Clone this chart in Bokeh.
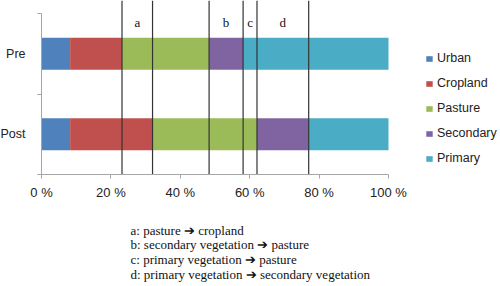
from bokeh.plotting import figure
from bokeh.models import (Range1d, FixedTicker, Legend, LegendItem, Label,
                          ColumnDataSource)
from bokeh.core.properties import value
from bokeh.embed import file_html
from bokeh.resources import INLINE
import numpy as np

# ---- data (percent of area) ----
categories = ["Pre", "Post"]
cat_pos = [1.5, 0.5]
series_names = ["Urban", "Cropland", "Pasture", "Secondary", "Primary"]
urban = [8.25, 8.25]
cropland = [14.95, 23.75]
pasture = [25.1, 30.1]
secondary = [9.8, 14.9]
primary = [41.9, 23.0]
colors = ["#4F81BD", "#C0504D", "#9BBB59", "#8064A2", "#4BACC6"]
x_ticks = [0, 20, 40, 60, 80, 100]
x_tick_labels = ["0 %", "20 %", "40 %", "60 %", "80 %", "100 %"]
transition_labels = ["a", "b", "c", "d"]
notes = [
    "a: pasture \u2794 cropland",
    "b: secondary vegetation \u2794 pasture",
    "c: primary vegetation \u2794 pasture",
    "d: primary vegetation \u2794 secondary vegetation",
]

series = [urban, cropland, pasture, secondary, primary]
cum = np.cumsum(np.array(series), axis=0)  # shape (5, 2)
starts = np.vstack([np.zeros(2), cum[:-1]])

# frame covers the whole canvas; axes are pinned at 0 with limited bounds
PX_X = 3.47    # px per percent
PX_Y = 80.5    # px per category unit
X0, Y0 = 41, 174   # pixel position of the axes origin
W, H = 500, 286
x_lo, x_hi = -X0 / PX_X, (W - X0) / PX_X
y_hi, y_lo = Y0 / PX_Y, -(H - Y0) / PX_Y

p = figure(width=W, height=H, output_backend="svg", toolbar_location=None,
           x_range=Range1d(x_lo, x_hi), y_range=Range1d(y_lo, y_hi),
           min_border=0)
p.outline_line_color = None
p.xgrid.visible = False
p.ygrid.visible = False
p.background_fill_color = "white"
p.border_fill_color = "white"

items = []
for i, name in enumerate(series_names):
    src = ColumnDataSource(dict(y=cat_pos, left=starts[i], right=cum[i]))
    r = p.hbar(y="y", left="left", right="right", height=0.4, source=src,
               fill_color=colors[i], line_color=None)
    items.append(LegendItem(label=name, renderers=[r]))

# transition boundary lines
pre_i, post_i = 0, 1
line_x = [cum[1][pre_i], cum[1][post_i], cum[2][pre_i], cum[3][pre_i],
          cum[2][post_i], cum[3][post_i]]
p.segment(x0=line_x, x1=line_x, y0=[0] * 6, y1=[y_hi] * 6,
          line_color="#333333", line_width=1.2)

pairs = [(0, 1), (2, 3), (3, 4), (4, 5)]
lab_x = [(line_x[a] + line_x[b]) / 2 for a, b in pairs]
p.text(x=lab_x, y=[(Y0 - 22) / PX_Y] * 4, text=transition_labels,
       text_font=value("Liberation Serif"), text_font_size="13px",
       text_align="center", text_baseline="middle", text_color="#111111")

# axes
xa = p.xaxis[0]
xa.fixed_location = 0
xa.bounds = (0, 100)
xa.ticker = FixedTicker(ticks=x_ticks)
xa.major_label_overrides = {t: l for t, l in zip(x_ticks, x_tick_labels)}
xa.axis_line_color = "#a6a6a6"
xa.major_tick_line_color = "#a6a6a6"
xa.minor_tick_line_color = None
xa.major_tick_in = 0
xa.major_tick_out = 4
xa.major_label_standoff = 6
xa.major_label_text_font = "Liberation Sans"
xa.major_label_text_font_size = "13px"
xa.major_label_text_color = "#222222"

ya = p.yaxis[0]
ya.fixed_location = 0
ya.bounds = (0, 2)
ya.ticker = FixedTicker(ticks=cat_pos, minor_ticks=[0, 1, 2])
ya.major_label_overrides = {pos: c for pos, c in zip(cat_pos, categories)}
ya.axis_line_color = "#a6a6a6"
ya.major_tick_line_color = None
ya.major_tick_in = 0
ya.major_tick_out = 0
ya.minor_tick_line_color = "#a6a6a6"
ya.minor_tick_in = 0
ya.minor_tick_out = 4
ya.major_label_standoff = 12
ya.major_label_text_font = "Liberation Sans"
ya.major_label_text_font_size = "12.5px"
ya.major_label_text_color = "#222222"

# notes below the axis
for k, t in enumerate(notes):
    p.add_layout(Label(x=130, y=H - 229.5 - 14.7 * k, x_units="screen",
                       y_units="screen", text=t, text_align="left",
                       text_baseline="middle", text_font="Liberation Serif",
                       text_font_size="13px", text_color="#111111"))

legend = Legend(items=items, location=(425, H - 168), orientation="vertical",
                glyph_width=8, glyph_height=7, label_standoff=4,
                label_height=20, spacing=5, padding=0, margin=0,
                border_line_color=None, background_fill_alpha=0,
                label_text_font="Liberation Sans", label_text_font_size="12.5px",
                label_text_color="#222222")
p.add_layout(legend, "center")

open("out.html", "w").write(file_html(p, INLINE))
